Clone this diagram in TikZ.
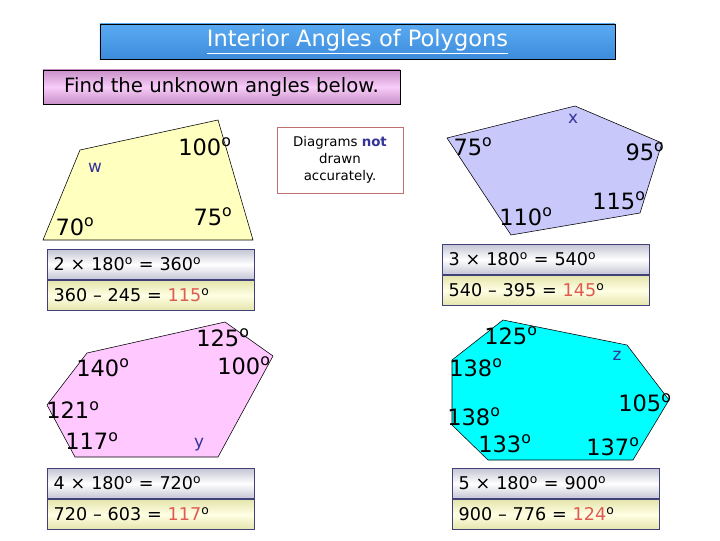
\documentclass[tikz,border=0pt]{standalone}
\usepackage{fontspec}
\setmainfont{DejaVu Sans}
\usetikzlibrary{positioning}

\definecolor{titleblue}{HTML}{5AAAF2}
\definecolor{titledark}{HTML}{3C8CDC}
\definecolor{findpink}{HTML}{F8CCF8}
\definecolor{finddark}{HTML}{C890C8}
\definecolor{quadfill}{HTML}{FFFFC0}
\definecolor{pentfill}{HTML}{C8C8FA}
\definecolor{hexfill}{HTML}{FFC8FF}
\definecolor{heptfill}{HTML}{00FFFF}
\definecolor{boxline}{HTML}{40407A}
\definecolor{boxgray}{HTML}{C4C4D4}
\definecolor{boxyellow}{HTML}{E4E4AC}
\definecolor{lightyellow}{HTML}{FFFFE4}
\definecolor{answerred}{HTML}{E05A50}
\definecolor{letterblue}{HTML}{333399}
\definecolor{noteline}{HTML}{C07070}

\newcommand{\dg}{\textsuperscript{o}}

\begin{document}
\begin{tikzpicture}[x=0.025cm, y=-0.025cm]

		\tikzstyle{angle} = [inner sep=0pt, font=\fontsize{16}{16}\selectfont]
		\tikzstyle{unknown} = [inner sep=0pt, text=letterblue, font=\fontsize{12}{12}\selectfont]
		\tikzstyle{sumbox} = [draw=boxline, anchor=north west, minimum height=0.76cm, text width=4.85cm, inner xsep=0.16cm, align=left, font=\fontsize{12.5}{12.5}\selectfont]
		\tikzstyle{sumtop} = [sumbox, top color=boxgray, bottom color=boxgray, middle color=white]
		\tikzstyle{sumbot} = [sumbox, top color=boxyellow, bottom color=boxyellow, middle color=lightyellow]

		\useasboundingbox (0,0) rectangle (720,540);

		\node[draw, top color=titleblue, bottom color=titledark, minimum width=12.875cm, minimum height=0.875cm, text=white, font=\fontsize{16}{16}\selectfont] (title) at (357.5,41.5) {\underline{Interior Angles of Polygons}};
		\node[draw, top color=finddark, bottom color=finddark, middle color=findpink, minimum width=8.925cm, minimum height=0.85cm, font=\fontsize{14}{14}\selectfont] (find) at (221.5,87) {Find the unknown angles below.};
		\node[draw=noteline, minimum width=3.15cm, minimum height=1.65cm, align=center, font=\fontsize{9.5}{12}\selectfont] (note) at (340,160) {Diagrams \textcolor{letterblue}{\textbf{not}}\\drawn\\accurately.};

		% quadrilateral
		\draw[fill=quadfill] (80,150) -- (218,120) -- (253,240) -- (43,240) -- cycle;
		\node[angle] (q100) at (205,147) {100\dg};
		\node[unknown] (w) at (95,168) {w};
		\node[angle] (q70) at (75,227) {70\dg};
		\node[angle] (q75) at (213,217) {75\dg};

		% pentagon
		\draw[fill=pentfill] (447,138) -- (575,106) -- (662,143) -- (640,213) -- (511,235) -- cycle;
		\node[unknown] (x) at (573,119) {x};
		\node[angle] (p75) at (473,147) {75\dg};
		\node[angle] (p95) at (645,152) {95\dg};
		\node[angle] (p115) at (619,201) {115\dg};
		\node[angle] (p110) at (526,217) {110\dg};

		% hexagon
		\draw[fill=hexfill] (87,353) -- (225,322) -- (273,356) -- (218,457) -- (75,457) -- (47,405) -- cycle;
		\node[angle] (h125) at (223,338) {125\dg};
		\node[angle] (h140) at (103,368) {140\dg};
		\node[angle] (h100) at (244,366) {100\dg};
		\node[angle] (h121) at (73,410) {121\dg};
		\node[angle] (h117) at (92,441) {117\dg};
		\node[unknown] (y) at (199,445) {y};

		% heptagon
		\draw[fill=heptfill] (503,320) -- (627,345) -- (669,400) -- (633,460) -- (488,460) -- (452,425) -- (452,360) -- cycle;
		\node[angle] (s125) at (511,336) {125\dg};
		\node[unknown] (z) at (617,356) {z};
		\node[angle] (s138a) at (476,368) {138\dg};
		\node[angle] (s105) at (645,403) {105\dg};
		\node[angle] (s138b) at (474,417) {138\dg};
		\node[angle] (s133) at (505,444) {133\dg};
		\node[angle] (s137) at (613,447) {137\dg};

		% working
		\node[sumtop] (quadsum) at (47,249) {2 × 180\dg{} = 360\dg};
		\node[sumbot] (quadans) [below=0pt of quadsum] {360 -- 245 = \textcolor{answerred}{115}\dg};
		\node[sumtop] (pentsum) at (442,244) {3 × 180\dg{} = 540\dg};
		\node[sumbot] (pentans) [below=0pt of pentsum] {540 -- 395 = \textcolor{answerred}{145}\dg};
		\node[sumtop] (hexsum) at (47,468) {4 × 180\dg{} = 720\dg};
		\node[sumbot] (hexans) [below=0pt of hexsum] {720 -- 603 = \textcolor{answerred}{117}\dg};
		\node[sumtop] (heptsum) at (452,468) {5 × 180\dg{} = 900\dg};
		\node[sumbot] (heptans) [below=0pt of heptsum] {900 -- 776 = \textcolor{answerred}{124}\dg};

  \end{tikzpicture}
\end{document}
